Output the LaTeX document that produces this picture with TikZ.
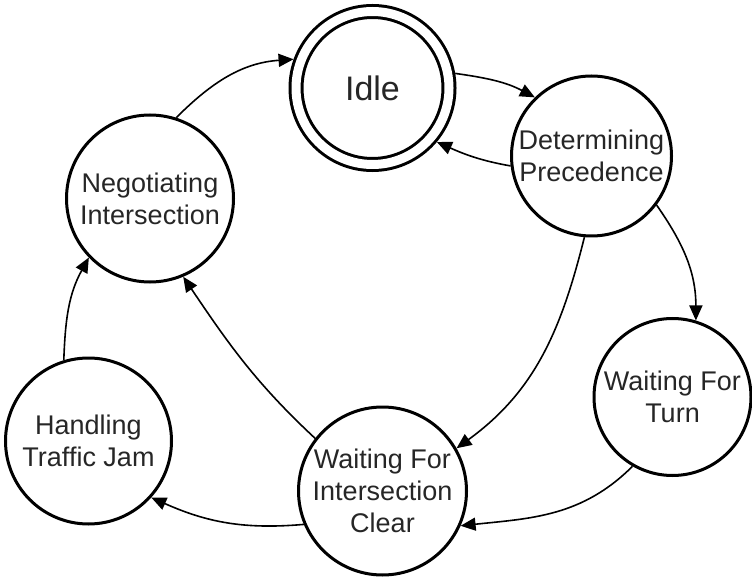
\documentclass[tikz,border=0pt]{standalone}
\usepackage{fontspec}
\setmainfont{Liberation Sans}
\usetikzlibrary{arrows.meta}
\begin{document}
\begin{tikzpicture}[x=1pt,y=1pt,
  state/.style={circle, draw=black, line width=3pt, inner sep=-30pt, align=center,
    text=black!85, font=\fontsize{27}{32}\selectfont},
  edge/.style={line width=1.6pt, -{Triangle[length=15pt,width=13pt]}}]
\useasboundingbox (0,0) rectangle (752,-577);
\node[state, minimum size=153pt, double, double distance=9pt, outer sep=7.5pt,
  font=\fontsize{34}{40}\selectfont] (I) at (372.5,-88) {Idle};
\node[state, minimum size=160pt] (D) at (591.5,-156) {Determining\\Precedence};
\node[state, minimum size=167pt] (N) at (150,-198.5) {Negotiating\\Intersection};
\node[state, minimum size=166pt] (H) at (88.5,-441) {Handling\\Traffic Jam};
\node[state, minimum size=168pt] (C) at (382.5,-491) {Waiting For\\Intersection\\Clear};
\node[state, minimum size=157pt] (T) at (672.5,-397) {Waiting For\\Turn};
\draw[edge] (N.72) to[out=45,in=184] (I.160.6);
\draw[edge] (I.10) to[out=-8,in=152] (D.134.8);
\draw[edge] (D.187.7) to[out=170,in=-24] (I.-40.7);
\draw[edge] (D.-37.5) to[out=-55,in=90] (T.73.4);
\draw[edge] (D.265.6) to[out=-104,in=36] (C.30.7);
\draw[edge] (T.240.3) to[out=-135,in=6] (C.-24.1);
\draw[edge] (C.203.2) to[out=185,in=-24] (H.-42.9);
\draw[edge] (C.142.5) to[out=137,in=-56] (N.-67.9);
\draw[edge] (H.107.9) to[out=88,in=241] (N.224.8);
\end{tikzpicture}
\end{document}
